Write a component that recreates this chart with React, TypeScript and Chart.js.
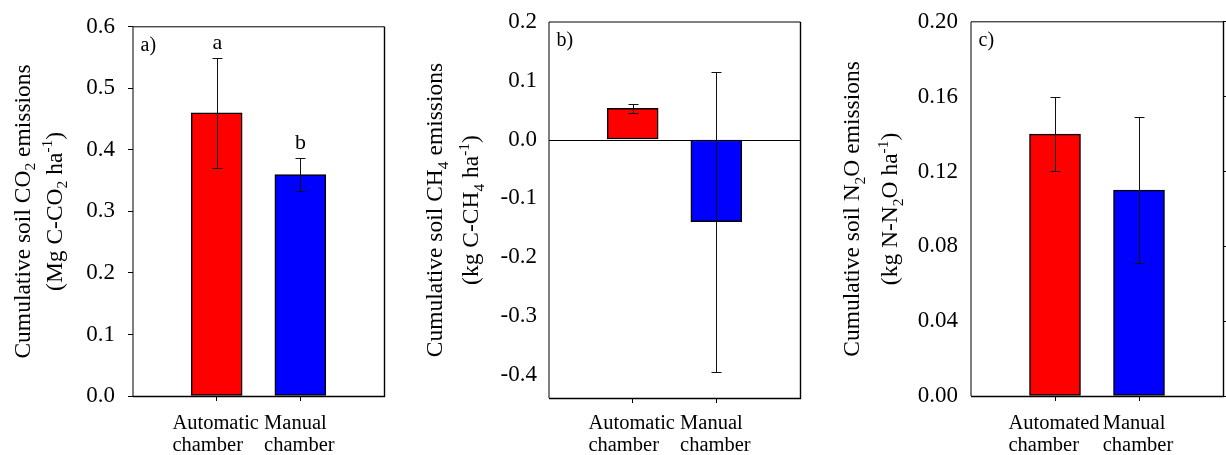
import React, { useEffect, useRef } from 'react';
import { Chart, registerables } from 'chart.js';

Chart.register(...registerables);

const FONT = "'Liberation Serif', 'Times New Roman', Times, serif";

// ---------- data ----------
const categoriesA = [['Automatic', 'chamber'], ['Manual', 'chamber']];
const valuesA = [0.46, 0.36];
const errorsA = [0.09, 0.027];
const lettersA = ['a', 'b'];
const ticksA = [0, 0.1, 0.2, 0.3, 0.4, 0.5, 0.6];

const categoriesB = [['Automatic', 'chamber'], ['Manual', 'chamber']];
const valuesB = [0.053, -0.14];
const errorsB = [0.008, 0.255];
const ticksB = [-0.4, -0.3, -0.2, -0.1, 0, 0.1, 0.2];

const categoriesC = [['Automated', 'chamber'], ['Manual', 'chamber']];
const valuesC = [0.14, 0.11];
const errorsC = [0.02, 0.039];
const ticksC = [0, 0.04, 0.08, 0.12, 0.16, 0.2];

const barColors = ['#FF0000', '#0000FF'];

type Seg = [string, '' | 'sub' | 'sup'];

const titleA: Seg[][] = [
  [['Cumulative soil CO', ''], ['2', 'sub'], [' emissions', '']],
  [['(Mg C-CO', ''], ['2', 'sub'], [' ha', ''], ['-1', 'sup'], [')', '']],
];
const titleB: Seg[][] = [
  [['Cumulative soil CH', ''], ['4', 'sub'], [' emissions', '']],
  [['(kg C-CH', ''], ['4', 'sub'], [' ha', ''], ['-1', 'sup'], [')', '']],
];
const titleC: Seg[][] = [
  [['Cumulative soil N', ''], ['2', 'sub'], ['O emissions', '']],
  [['(kg N-N', ''], ['2', 'sub'], ['O ha', ''], ['-1', 'sup'], [')', '']],
];

const TICK_SIZE = 23;
const TITLE_SIZE = 23.5;
const CAT_SIZE = 20.5;

interface Panel {
  left: number;
  width: number;
  padTop: number;
  padRight: number;
  yWidth: number;
  xHeight: number;
  yMin: number;
  yMax: number;
  ticks: number[];
  decimals: number;
  categories: string[][];
  values: number[];
  errors: number[];
  letters?: string[];
  label: string;
  title: Seg[][];
  titleX: number[];
  leftTicks: boolean;
  rightTicks: boolean;
  zeroLine: boolean;
  yPad: number;
  catBase: number;
}

const panels: Panel[] = [
  {
    left: 0, width: 400, padTop: 20, padRight: 16, yWidth: 133, xHeight: 59,
    yMin: 0, yMax: 0.6, ticks: ticksA, decimals: 1,
    categories: categoriesA, values: valuesA, errors: errorsA, letters: lettersA,
    label: 'a)', title: titleA, titleX: [29.5, 61.5],
    leftTicks: true, rightTicks: false, zeroLine: false, yPad: 13, catBase: 32.5,
  },
  {
    left: 410, width: 400, padTop: 22, padRight: 10, yWidth: 139, xHeight: 57,
    yMin: -0.44, yMax: 0.2, ticks: ticksB, decimals: 1,
    categories: categoriesB, values: valuesB, errors: errorsB,
    label: 'b)', title: titleB, titleX: [31.7, 68],
    leftTicks: false, rightTicks: false, zeroLine: true, yPad: 7, catBase: 31,
  },
  {
    left: 826, width: 400, padTop: 20, padRight: 0, yWidth: 145, xHeight: 59,
    yMin: 0, yMax: 0.2, ticks: ticksC, decimals: 2,
    categories: categoriesC, values: valuesC, errors: errorsC,
    label: 'c)', title: titleC, titleX: [33.3, 71],
    leftTicks: false, rightTicks: true, zeroLine: false, yPad: 8, catBase: 32.5,
  },
];

function drawRich(ctx: CanvasRenderingContext2D, segs: Seg[], size: number) {
  const widths: number[] = [];
  let total = 0;
  segs.forEach(([t, k]) => {
    const fs = k ? size * 0.66 : size;
    ctx.font = `${fs}px ${FONT}`;
    const w = ctx.measureText(t).width;
    widths.push(w);
    total += w;
  });
  let x = -total / 2;
  ctx.textAlign = 'left';
  ctx.textBaseline = 'alphabetic';
  segs.forEach(([t, k], i) => {
    const fs = k ? size * 0.66 : size;
    ctx.font = `${fs}px ${FONT}`;
    const dy = k === 'sub' ? size * 0.25 : k === 'sup' ? -size * 0.4 : 0;
    ctx.fillText(t, x, dy);
    x += widths[i];
  });
}

function makePlugin(p: Panel) {
  return {
    id: 'panelDecor',
    beforeDatasetsDraw(chart: any) {
      if (!p.zeroLine) return;
      const ctx = chart.ctx;
      const a = chart.chartArea;
      const y0 = Math.round(chart.scales.y.getPixelForValue(0)) + 0.5;
      ctx.save();
      ctx.strokeStyle = '#000';
      ctx.lineWidth = 1.2;
      ctx.beginPath();
      ctx.moveTo(a.left, y0);
      ctx.lineTo(a.right, y0);
      ctx.stroke();
      ctx.restore();
    },
    afterDatasetsDraw(chart: any) {
      const ctx = chart.ctx;
      const ys = chart.scales.y;
      const meta = chart.getDatasetMeta(0);
      ctx.save();
      ctx.strokeStyle = '#111';
      ctx.lineWidth = 1;
      p.values.forEach((v, i) => {
        const el = meta.data[i + 1];
        if (!el) return;
        const x = Math.round(el.x) + 0.5;
        const yTop = Math.round(ys.getPixelForValue(v + p.errors[i])) + 0.5;
        const yBot = Math.round(ys.getPixelForValue(v - p.errors[i])) + 0.5;
        ctx.beginPath();
        ctx.moveTo(x, yTop);
        ctx.lineTo(x, yBot);
        ctx.moveTo(x - 5, yTop);
        ctx.lineTo(x + 5, yTop);
        ctx.moveTo(x - 5, yBot);
        ctx.lineTo(x + 5, yBot);
        ctx.stroke();
        if (p.letters) {
          ctx.fillStyle = '#000';
          ctx.font = `22px ${FONT}`;
          ctx.textAlign = 'center';
          ctx.textBaseline = 'alphabetic';
          ctx.fillText(p.letters[i], x, yTop - 9.5);
        }
      });
      ctx.restore();
    },
    afterDraw(chart: any) {
      const ctx = chart.ctx;
      const a = chart.chartArea;
      const xs = chart.scales.x;
      ctx.save();
      // frame
      ctx.strokeStyle = '#000';
      ctx.lineWidth = 1;
      ctx.beginPath();
      ctx.moveTo(a.left, a.bottom);
      ctx.lineTo(a.left, a.top);
      ctx.lineTo(a.right + 0.5, a.top);
      ctx.stroke();
      ctx.lineWidth = 1.4;
      ctx.beginPath();
      ctx.moveTo(a.right + 0.5, a.top);
      ctx.lineTo(a.right + 0.5, a.bottom + 0.5);
      ctx.lineTo(a.left, a.bottom + 0.5);
      ctx.stroke();
      // category labels: block centred on tick, lines left-aligned
      ctx.fillStyle = '#000';
      ctx.font = `${CAT_SIZE}px ${FONT}`;
      ctx.textAlign = 'left';
      ctx.textBaseline = 'alphabetic';
      p.categories.forEach((lines, i) => {
        const cx = xs.getPixelForValue(i + 1);
        const maxW = Math.max(...lines.map((l) => ctx.measureText(l).width));
        const lx = cx - maxW / 2 - 1;
        lines.forEach((l, k) => {
          ctx.fillText(l, lx, a.bottom + p.catBase + k * 22);
        });
      });
      // panel label
      ctx.font = `20px ${FONT}`;
      ctx.fillText(p.label, a.left + 7.5, a.top + 24);
      // y title
      const cy = (a.top + a.bottom) / 2;
      p.title.forEach((segs, k) => {
        ctx.save();
        ctx.translate(p.titleX[k], cy);
        ctx.rotate(-Math.PI / 2);
        ctx.fillStyle = '#000';
        drawRich(ctx, segs, TITLE_SIZE);
        ctx.restore();
      });
      ctx.restore();
    },
  };
}

function buildConfig(p: Panel): any {
  const labels = ['', ...p.categories.map((c) => c.join(' ')), ''];
  const data = [null, ...p.values, null];
  const colors = ['rgba(0,0,0,0)', ...barColors, 'rgba(0,0,0,0)'];
  const scales: any = {
    x: {
      type: 'category',
      offset: false,
      grid: {
        display: true,
        offset: false,
        drawOnChartArea: false,
        drawTicks: true,
        tickLength: 5,
        lineWidth: 1,
        tickColor: (c: any) =>
          c.index > 0 && c.index <= p.categories.length ? '#000' : 'rgba(0,0,0,0)',
      },
      border: { display: false },
      ticks: { display: false, autoSkip: false, maxRotation: 0, minRotation: 0 },
      afterFit: (s: any) => {
        s.height = p.xHeight;
      },
    },
    y: {
      type: 'linear',
      position: 'left',
      min: p.yMin,
      max: p.yMax,
      afterBuildTicks: (s: any) => {
        s.ticks = p.ticks.map((v) => ({ value: v }));
      },
      grid: {
        display: true,
        drawOnChartArea: false,
        drawTicks: true,
        tickLength: 5,
        lineWidth: 1,
        tickColor: p.leftTicks ? '#000' : 'rgba(0,0,0,0)',
      },
      border: { display: false },
      ticks: {
        padding: p.yPad,
        color: '#000',
        font: { family: FONT, size: TICK_SIZE },
        callback: (v: any) => Number(v).toFixed(p.decimals),
      },
      afterFit: (s: any) => {
        s.width = p.yWidth;
      },
    },
  };
  if (p.rightTicks) {
    scales.y2 = {
      type: 'linear',
      position: 'right',
      min: p.yMin,
      max: p.yMax,
      afterBuildTicks: (s: any) => {
        s.ticks = p.ticks.map((v) => ({ value: v }));
      },
      grid: {
        display: true,
        drawOnChartArea: false,
        drawTicks: true,
        tickLength: 5,
        lineWidth: 1,
        tickColor: '#000',
      },
      border: { display: false },
      ticks: { display: false },
      afterFit: (s: any) => {
        s.width = 3;
      },
    };
  }
  return {
    type: 'bar',
    data: {
      labels,
      datasets: [
        {
          data,
          backgroundColor: colors,
          borderColor: '#000',
          borderWidth: 1.5,
          borderSkipped: false,
          barThickness: 51,
          yAxisID: 'y',
        },
      ],
    },
    options: {
      responsive: false,
      animation: false,
      devicePixelRatio: 1,
      layout: { padding: { top: p.padTop, right: p.padRight, left: 0, bottom: 0 } },
      plugins: {
        legend: { display: false },
        tooltip: { enabled: false },
        title: { display: false },
      },
      scales,
    },
    plugins: [makePlugin(p)],
  };
}

function PanelChart({ p }: { p: Panel }) {
  const ref = useRef<HTMLCanvasElement | null>(null);
  useEffect(() => {
    if (!ref.current) return;
    const chart = new Chart(ref.current, buildConfig(p));
    return () => chart.destroy();
  }, [p]);
  return (
    <canvas
      ref={ref}
      width={p.width}
      height={455}
      style={{ position: 'absolute', left: p.left, top: 0, width: p.width, height: 455 }}
    />
  );
}

export default function App() {
  return (
    <div
      style={{
        position: 'fixed',
        left: 0,
        top: 0,
        width: 1226,
        height: 455,
        background: '#fff',
        overflow: 'hidden',
      }}
    >
      {panels.map((p, i) => (
        <PanelChart key={i} p={p} />
      ))}
    </div>
  );
}
